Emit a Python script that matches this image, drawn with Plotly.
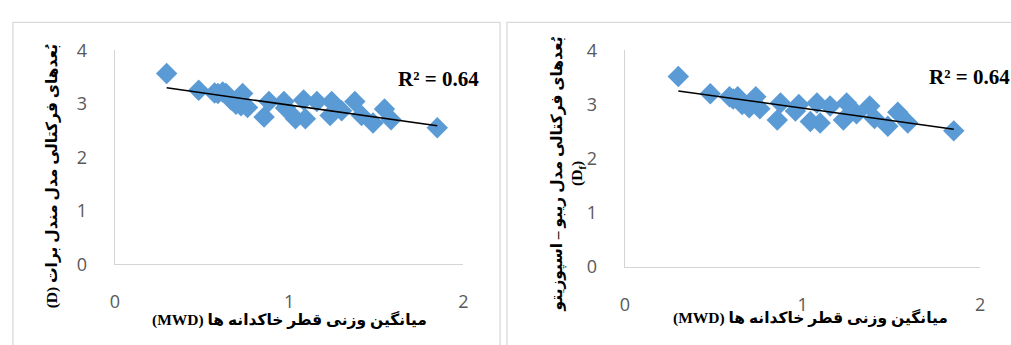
import numpy as np
import plotly.graph_objects as go

# Mean weight diameter (MWD) vs fractal dimension, two fractal models
left_mwd = [0.297, 0.481, 0.572, 0.591, 0.619, 0.638, 0.667, 0.695, 0.724, 0.733,
            0.761, 0.884, 0.856, 0.970, 0.979, 1.036, 1.083, 1.093, 1.159, 1.244,
            1.235, 1.301, 1.377, 1.415, 1.481, 1.547, 1.585, 1.850]
left_d = [3.565, 3.25, 3.20, 3.19, 3.22, 3.19, 3.07, 2.99, 2.96, 3.19,
          2.93, 3.04, 2.75, 3.04, 2.92, 2.72, 3.07, 2.72, 3.04, 3.04,
          2.78, 2.87, 3.04, 2.78, 2.64, 2.90, 2.70, 2.55]

right_mwd = [0.301, 0.481, 0.589, 0.610, 0.635, 0.660, 0.700, 0.737, 0.760, 0.876,
             0.858, 0.979, 0.960, 1.044, 1.081, 1.099, 1.155, 1.248, 1.230, 1.304,
             1.378, 1.405, 1.480, 1.536, 1.592, 1.851]
right_df = [3.514, 3.198, 3.142, 3.10, 3.142, 3.00, 2.94, 3.142, 2.92, 3.027,
            2.712, 2.999, 2.88, 2.683, 3.027, 2.656, 2.97, 3.027, 2.712, 2.827,
            2.97, 2.742, 2.597, 2.855, 2.656, 2.512]

r2_labels = ["R² = 0.64", "R² = 0.64"]
x_ticks = [0, 1, 2]
y_ticks = [0, 1, 2, 3, 4]

x_title = "(MWD) میانگین وزنی قطر خاکدانه ها"
y_title_left = "(D) بُعدهای فرکتالی مدل مندل برات"
y_title_right = "بُعدهای فرکتالی مدل ریبو – اسپوزیتو<br>(D<sub>f</sub>)"

W, H = 1011, 345
BLUE = "#5b9bd5"
AXIS = "#d4d4d4"
TICK_FONT = dict(family="Open Sans, Liberation Sans, sans-serif", size=18, color="#595959")
TITLE_FONT = dict(family="Liberation Serif, DejaVu Sans, serif", size=15.5, color="#000000")


def px(x):
    return x / W


def py(y):
    return 1 - y / H


fig = go.Figure()


def add_panel(xs, ys, xa, ya):
    fig.add_trace(go.Scatter(
        x=xs, y=ys, mode="markers", xaxis=xa, yaxis=ya,
        marker=dict(symbol="diamond", size=16.5, color=BLUE, line=dict(width=0)),
        showlegend=False, hoverinfo="x+y"))
    slope, intercept = np.polyfit(xs, ys, 1)
    x_line = np.array([min(xs), max(xs)])
    fig.add_trace(go.Scatter(
        x=x_line, y=slope * x_line + intercept, mode="lines", xaxis=xa, yaxis=ya,
        line=dict(color="black", width=1.5), showlegend=False, hoverinfo="skip"))


add_panel(left_mwd, left_d, "x", "y")
add_panel(right_mwd, right_df, "x2", "y2")

axis_common = dict(showgrid=False, zeroline=False, showline=True, linecolor=AXIS,
                   linewidth=1.3, ticks="outside",
                   tickcolor="rgba(0,0,0,0)", tickfont=TICK_FONT)

fig.update_layout(
    width=W, height=H, margin=dict(l=0, r=0, t=0, b=0),
    paper_bgcolor="white", plot_bgcolor="white",
    xaxis=dict(domain=[px(111), px(463)], range=[0, 2], tickvals=x_ticks,
               anchor="y", ticklen=21, **axis_common),
    yaxis=dict(domain=[py(270), py(40)], range=[0, 4], tickvals=y_ticks,
               anchor="x", ticklen=23, **axis_common),
    xaxis2=dict(domain=[px(626), px(985)], range=[0, 2], tickvals=x_ticks,
                anchor="y2", ticklen=21, **axis_common),
    yaxis2=dict(domain=[py(273), py(40)], range=[0, 4], tickvals=y_ticks,
                anchor="x2", ticklen=23, **axis_common),
)

# Chart-area borders around each panel
fig.add_shape(type="rect", xref="paper", yref="paper",
              x0=px(8), x1=px(500), y0=-0.2, y1=py(10),
              line=dict(color="#d9d9d9", width=1.3), layer="below")
fig.add_shape(type="rect", xref="paper", yref="paper",
              x0=px(507), x1=1.2, y0=-0.2, y1=py(10),
              line=dict(color="#d9d9d9", width=1.3), layer="below")

r2_font = dict(family="Liberation Serif, serif", size=21, color="black")
fig.add_annotation(xref="paper", yref="paper", x=px(395), y=py(71), xanchor="left",
                   yanchor="middle", text="<b>%s</b>" % r2_labels[0], showarrow=False,
                   font=r2_font)
fig.add_annotation(xref="paper", yref="paper", x=px(931), y=py(69), xanchor="left",
                   yanchor="middle", text="<b>%s</b>" % r2_labels[1], showarrow=False,
                   font=r2_font)

# Axis titles
fig.add_annotation(xref="paper", yref="paper", x=px(287), y=py(329), text="<b>%s</b>" % x_title,
                   showarrow=False, font=TITLE_FONT, xanchor="center", yanchor="middle")
fig.add_annotation(xref="paper", yref="paper", x=px(814), y=py(327), text="<b>%s</b>" % x_title,
                   showarrow=False, font=TITLE_FONT, xanchor="center", yanchor="middle")
fig.add_annotation(xref="paper", yref="paper", x=px(47), y=py(175), text="<b>%s</b>" % y_title_left,
                   showarrow=False, font=TITLE_FONT, textangle=-90,
                   xanchor="center", yanchor="middle")
fig.add_annotation(xref="paper", yref="paper", x=px(568), y=py(172), text="<b>%s</b>" % y_title_right,
                   showarrow=False, font=TITLE_FONT, textangle=-90,
                   xanchor="center", yanchor="middle")

fig.write_html("out.html")
